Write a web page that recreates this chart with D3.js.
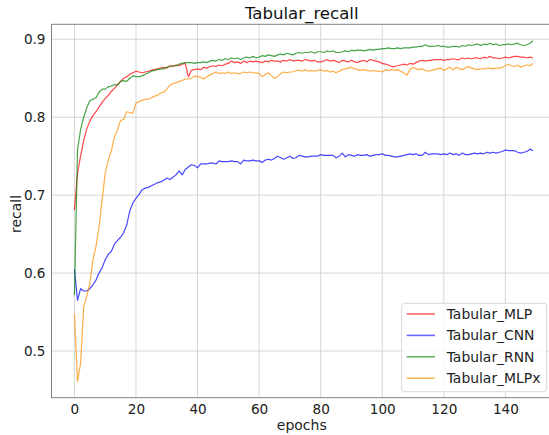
<!DOCTYPE html>
<html><head><meta charset="utf-8">
<script src="https://cdn.jsdelivr.net/npm/d3@7"></script>
<style>
html,body{margin:0;padding:0;background:#fff;overflow:hidden}
text{font-family:"DejaVu Sans",sans-serif}
</style></head>
<body>
<svg id="chart" width="549" height="435"></svg>
<script>
const title = "Tabular_recall";
const xLabel = "epochs";
const yLabel = "recall";
const seriesNames = ["Tabular_MLP","Tabular_CNN","Tabular_RNN","Tabular_MLPx"];
const seriesColors = ["#ff0000","#0000ff","#008000","#ff8c00"];
const xTicks = [0,20,40,60,80,100,120,140];
const yTicks = [0.5,0.6,0.7,0.8,0.9];

const mlp = [
.681,.728,.750,.770,.785,.795,.802,.807,.813,.819,
.824,.828,.833,.837,.842,.846,.850,.852,.855,.857,
.859,.858,.857,.858,.859,.860,.861,.862,.863,.864,
.863,.866,.865,.867,.866,.868,.869,.852,.860,.861,
.862,.861,.864,.863,.865,.866,.865,.867,.866,.868,
.869,.872,.870,.871,.869,.872,.870,.872,.871,.872,
.871,.870,.872,.871,.873,.872,.872,.871,.873,.872,
.874,.872,.873,.873,.872,.874,.873,.872,.873,.871,
.871,.872,.874,.872,.873,.872,.870,.873,.872,.871,
.873,.871,.870,.872,.873,.871,.874,.873,.872,.871,
.869,.868,.867,.865,.865,.866,.867,.868,.867,.869,
.868,.870,.872,.873,.872,.873,.873,.874,.874,.874,
.873,.874,.874,.875,.874,.874,.876,.875,.876,.875,
.876,.876,.875,.877,.876,.878,.876,.876,.875,.876,
.877,.876,.877,.878,.878,.877,.877,.876,.877,.876];

const cnn = [
.605,.565,.580,.577,.577,.580,.585,.591,.600,.607,
.617,.624,.628,.637,.642,.646,.652,.662,.680,.690,
.696,.701,.707,.709,.710,.712,.714,.716,.717,.719,
.722,.720,.723,.726,.731,.726,.733,.736,.739,.738,
.735,.740,.740,.740,.741,.741,.740,.744,.743,.743,
.743,.744,.743,.743,.740,.745,.744,.744,.745,.744,
.744,.742,.745,.746,.745,.747,.750,.748,.746,.748,
.750,.747,.748,.751,.750,.749,.749,.750,.750,.750,
.752,.751,.751,.751,.751,.748,.750,.754,.749,.752,
.751,.750,.752,.751,.751,.752,.750,.751,.752,.752,
.753,.751,.751,.750,.749,.749,.750,.751,.752,.753,
.752,.753,.751,.751,.755,.752,.753,.753,.753,.752,
.753,.752,.754,.752,.753,.751,.754,.752,.752,.753,
.754,.753,.754,.753,.755,.754,.755,.754,.755,.756,
.758,.757,.757,.757,.755,.754,.755,.756,.759,.757];

const rnn = [
.572,.758,.784,.800,.812,.821,.823,.825,.832,.836,
.836,.839,.840,.842,.841,.846,.847,.846,.850,.853,
.852,.852,.853,.855,.857,.859,.860,.861,.862,.862,
.864,.865,.866,.866,.868,.869,.870,.870,.870,.869,
.870,.870,.871,.870,.872,.873,.872,.874,.873,.875,
.874,.876,.875,.876,.874,.876,.877,.876,.878,.876,
.877,.879,.878,.880,.879,.878,.880,.881,.880,.882,
.881,.880,.882,.883,.882,.883,.883,.884,.882,.884,
.884,.883,.885,.884,.885,.883,.883,.884,.885,.884,
.886,.885,.886,.886,.885,.886,.887,.886,.887,.887,
.888,.888,.889,.888,.888,.889,.888,.889,.889,.889,
.890,.890,.891,.891,.893,.891,.891,.891,.892,.891,
.891,.890,.890,.891,.891,.890,.892,.891,.893,.892,
.893,.894,.892,.894,.893,.895,.893,.894,.892,.893,
.893,.894,.893,.894,.895,.893,.892,.893,.895,.898];

const mlpx = [
.548,.461,.484,.557,.570,.587,.617,.634,.660,.694,
.728,.745,.757,.775,.784,.796,.797,.807,.806,.805,
.818,.820,.822,.823,.823,.825,.827,.828,.831,.832,
.836,.841,.843,.844,.846,.847,.849,.849,.850,.853,
.852,.851,.849,.852,.854,.856,.858,.856,.857,.856,
.858,.856,.857,.856,.856,.858,.857,.858,.857,.857,
.856,.852,.855,.857,.853,.850,.852,.856,.858,.857,
.858,.858,.860,.860,.859,.861,.859,.860,.859,.860,
.861,.859,.860,.858,.859,.857,.859,.861,.862,.863,
.864,.862,.861,.860,.861,.860,.859,.860,.859,.859,
.858,.861,.860,.861,.860,.861,.859,.857,.854,.861,
.864,.862,.861,.862,.860,.859,.860,.861,.862,.863,
.860,.862,.864,.861,.864,.862,.861,.863,.865,.863,
.862,.861,.862,.862,.863,.863,.862,.863,.863,.864,
.866,.868,.866,.865,.867,.864,.866,.867,.866,.869];

const seriesValues = [mlp, cnn, rnn, mlpx];

const svg = d3.select("#chart");
const L = 51.5, R = 556, T = 24.3, B = 397.7;
const n = mlp.length;
const pad = (n - 1) * 0.05;
const x = d3.scaleLinear().domain([-pad, n - 1 + pad]).range([L, R]);
const y = d3.scaleLinear().domain([0.4401, 0.9192]).range([B, T]);

svg.append("defs").append("clipPath").attr("id","clip")
  .append("rect").attr("x",L).attr("y",T).attr("width",R-L).attr("height",B-T);

// grid
const grid = svg.append("g");
grid.selectAll(".gx").data(xTicks).enter().append("line")
  .attr("x1",d=>x(d)).attr("x2",d=>x(d)).attr("y1",T).attr("y2",B)
  .attr("stroke","#d6d6d6").attr("stroke-width",1);
grid.selectAll(".gy").data(yTicks).enter().append("line")
  .attr("x1",L).attr("x2",R).attr("y1",d=>y(d)).attr("y2",d=>y(d))
  .attr("stroke","#d6d6d6").attr("stroke-width",1);

// axes
const xAxis = svg.append("g").attr("transform",`translate(0,${B})`)
  .call(d3.axisBottom(x).tickValues(xTicks).tickSize(0).tickPadding(7).tickFormat(d3.format("d")));
const yAxis = svg.append("g").attr("transform",`translate(${L},0)`)
  .call(d3.axisLeft(y).tickValues(yTicks).tickSize(0).tickPadding(6).tickFormat(d3.format(".1f")));
[xAxis,yAxis].forEach(a=>{
  a.select(".domain").remove();
  a.selectAll("text").attr("font-size","13.6px").attr("fill","#222").style("font-family","DejaVu Sans, sans-serif");
});

// lines
const line = d3.line().x((d,i)=>x(i)).y(d=>y(d));
const lg = svg.append("g").attr("clip-path","url(#clip)");
seriesValues.forEach((vals,k)=>{
  lg.append("path").datum(vals).attr("d",line)
    .attr("fill","none").attr("stroke",seriesColors[k])
    .attr("stroke-opacity",0.72).attr("stroke-width",1.2)
    .attr("stroke-linejoin","round");
});

// frame
svg.append("rect").attr("x",L).attr("y",T).attr("width",R-L).attr("height",B-T)
  .attr("fill","none").attr("stroke","#808080").attr("stroke-width",1);

// title and labels
svg.append("text").attr("x",(L+R)/2-2).attr("y",19).attr("text-anchor","middle")
  .attr("font-size","16.6px").attr("fill","#111").text(title);
svg.append("text").attr("x",(L+R)/2-2).attr("y",430).attr("text-anchor","middle")
  .attr("font-size","14px").attr("fill","#222").text(xLabel);
svg.append("text").attr("transform",`translate(21,${(T+B)/2+3}) rotate(-90)`)
  .attr("text-anchor","middle").attr("font-size","14px").attr("fill","#222").text(yLabel);

// legend
const lgX = 401.7, lgY = 303.3, lgW = 145, lgH = 88.4;
const leg = svg.append("g");
leg.append("rect").attr("x",lgX).attr("y",lgY).attr("width",lgW).attr("height",lgH)
  .attr("rx",3).attr("fill","#fff").attr("fill-opacity",0.85)
  .attr("stroke","#d8d8d8").attr("stroke-width",1);
seriesNames.forEach((name,k)=>{
  const cy = 314 + k*21.4;
  leg.append("line").attr("x1",406.7).attr("x2",435).attr("y1",cy).attr("y2",cy)
    .attr("stroke",seriesColors[k]).attr("stroke-opacity",0.6).attr("stroke-width",1.6);
  leg.append("text").attr("x",446.7).attr("y",cy+5).attr("font-size","13.9px")
    .attr("fill","#222").text(name);
});
</script>
</body></html>
